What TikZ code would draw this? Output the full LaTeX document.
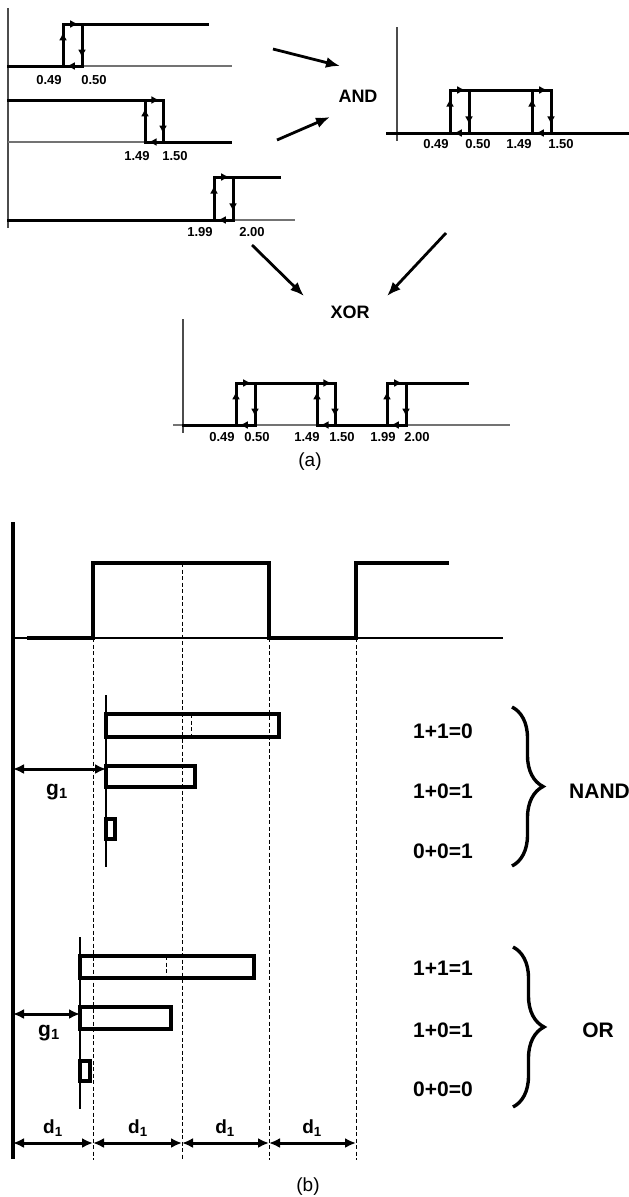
\documentclass[tikz,border=0pt]{standalone}
\usepackage{fontspec}
\setmainfont{Liberation Sans}
\usepackage{tikz}
\usetikzlibrary{arrows.meta,decorations.markings,decorations.pathreplacing}
\tikzset{
every picture/.style={line join=miter},
axis thin/.style={draw=black!70, line width=1.2pt},
wave/.style={draw=black, line width=3pt, line cap=rect},
wave thin/.style={draw=black!55, line width=1.2pt},
loop mark/.style={postaction={decorate},
  decoration={markings, mark=at position 0.8 with {\arrow{Latex[length=8pt,width=8pt]}}}},
gate arrow/.style={draw=black, line width=2.8pt, -{Latex[length=14pt,width=11pt]}},
tick label/.style={font=\bfseries\fontsize{13}{15}\selectfont, inner sep=0pt},
gate label/.style={font=\bfseries\fontsize{18}{20}\selectfont, inner sep=0pt},
part label/.style={font=\fontsize{19}{21}\selectfont, inner sep=0pt},
pulse/.style={draw=black, line width=4pt},
base line/.style={draw=black, line width=1.6pt},
guide/.style={draw=black, line width=1pt, dash pattern=on 4pt off 2.5pt},
bar/.style={draw=black, line width=3.2pt},
bar stem/.style={draw=black, line width=2.8pt},
dim arrow/.style={draw=black, line width=3pt, {Latex[length=11pt,width=10pt]}-{Latex[length=11pt,width=10pt]}},
dim label/.style={font=\bfseries\fontsize{19}{21}\selectfont, inner sep=0pt},
gap label/.style={font=\bfseries\fontsize{21}{23}\selectfont, inner sep=0pt},
eq label/.style={font=\bfseries\fontsize{21}{23}\selectfont, inner sep=0pt},
truth brace/.style={draw=black, line width=3.4pt, decorate, decoration={brace, amplitude=31pt}}
}
% one hysteresis loop: x up, x down, y low, y high
\newcommand{\hysloop}[4]{%
  \draw[wave,loop mark] (#1,#3) -- (#1,#4);
  \draw[wave,loop mark] (#1,#4) -- (#2,#4);
  \draw[wave,loop mark] (#2,#4) -- (#2,#3);
  \draw[wave,loop mark] (#2,#3) -- (#1,#3);
}

\begin{document}
\begin{tikzpicture}[x=1pt,y=-1pt]
\useasboundingbox (0,0) rectangle (629,1197);

% (a) three input signals
\draw[axis thin] (8,8) -- (8,228);
\draw[wave thin] (82,66) -- (232,66);
\draw[wave] (8,66) -- (63,66);
\hysloop{63}{82}{66}{24}
\draw[wave] (82,24) -- (207,24);
\node[tick label] (inAlo) at (49,80) {0.49};
\node[tick label] (inAhi) at (94,80) {0.50};

\draw[wave] (8,100) -- (145,100);
\draw[wave thin] (8,142) -- (145,142);
\hysloop{145}{163}{142}{100}
\draw[wave] (163,142) -- (230,142);
\node[tick label] (inBlo) at (137,156) {1.49};
\node[tick label] (inBhi) at (175,156) {1.50};

\draw[wave thin] (233,220) -- (295,220);
\draw[wave] (8,220) -- (214,220);
\hysloop{214}{233}{220}{177}
\draw[wave] (233,177) -- (279,177);
\node[tick label] (inClo) at (200,232) {1.99};
\node[tick label] (inChi) at (252,232) {2.00};

% AND
\node[gate label] (andlbl) at (358,96) {AND};
\coordinate (andin1) at (273,49);
\coordinate (andtip1) at (340,66);
\coordinate (andin2) at (277,140);
\coordinate (andtip2) at (330,117);
\draw[gate arrow] (andin1) -- (andtip1);
\draw[gate arrow] (andin2) -- (andtip2);

\draw[axis thin] (397,27) -- (397,141);
\draw[wave] (387,133) -- (629,133);
\hysloop{450}{469}{133}{90}
\hysloop{532}{551}{133}{90}
\draw[wave] (469,90) -- (532,90);
\node[tick label] (andA) at (436,144) {0.49};
\node[tick label] (andB) at (478,144) {0.50};
\node[tick label] (andC) at (519,144) {1.49};
\node[tick label] (andD) at (561,144) {1.50};

% XOR
\node[gate label] (xorlbl) at (350,312) {XOR};
\coordinate (xorin1) at (252,245);
\coordinate (xortip1) at (304,296);
\coordinate (xorin2) at (446,233);
\coordinate (xortip2) at (387,296);
\draw[gate arrow] (xorin1) -- (xortip1);
\draw[gate arrow] (xorin2) -- (xortip2);

\draw[axis thin] (183,319) -- (183,433);
\draw[wave thin] (173,425) -- (510,425);
\draw[wave] (183,425) -- (236,425);
\draw[wave] (335,425) -- (387,425);
\hysloop{236}{255}{425}{383}
\hysloop{317}{335}{425}{383}
\hysloop{387}{406}{425}{383}
\draw[wave] (255,383) -- (317,383);
\draw[wave] (406,383) -- (467,383);
\node[tick label] (xorA) at (222,437) {0.49};
\node[tick label] (xorB) at (257,437) {0.50};
\node[tick label] (xorC) at (307,437) {1.49};
\node[tick label] (xorD) at (342,437) {1.50};
\node[tick label] (xorE) at (383,437) {1.99};
\node[tick label] (xorF) at (417,437) {2.00};
\node[part label] (parta) at (310,462) {(a)};

% (b) pulse and guides
\draw[guide] (93,638) -- (93,1160);
\draw[guide] (182,563) -- (182,1160);
\draw[guide] (269,638) -- (269,1160);
\draw[guide] (356,638) -- (356,1160);
\draw[pulse] (13,522) -- (13,1159);
\draw[base line] (13,638) -- (503,638);
\draw[pulse] (27,638) -- (93,638) -- (93,563) -- (269,563) -- (269,638) -- (356,638) -- (356,563) -- (449,563);

% NAND bars
\draw[bar stem] (106,695) -- (106,867);
\draw[guide] (191,714) -- (191,737);
\draw[bar] (106,714) rectangle (279,737);
\draw[bar] (106,766) rectangle (195,787);
\draw[bar] (106,819) rectangle (115,839);
\coordinate (gnandL) at (13,769);
\coordinate (gnandR) at (106,769);
\draw[dim arrow] (gnandL) -- (gnandR);
\node[gap label] (gnand) at (57,792) {g\textsubscript{1}};

\node[eq label] (nandA) at (443,731) {1+1=0};
\node[eq label] (nandB) at (443,791) {1+0=1};
\node[eq label] (nandC) at (443,851) {0+0=1};
\draw[truth brace] (512,707) -- (512,866);
\node[eq label, anchor=west] (nandlbl) at (569,791) {NAND};

% OR bars
\draw[bar stem] (80,937) -- (80,1109);
\draw[guide] (166,956) -- (166,978);
\draw[bar] (80,956) rectangle (254,978);
\draw[bar] (80,1007) rectangle (171,1029);
\draw[bar] (80,1061) rectangle (90,1081);
\coordinate (gorL) at (13,1014);
\coordinate (gorR) at (80,1014);
\draw[dim arrow] (gorL) -- (gorR);
\node[gap label] (gor) at (49,1033) {g\textsubscript{1}};

\node[eq label] (orA) at (443,968) {1+1=1};
\node[eq label] (orB) at (443,1030) {1+0=1};
\node[eq label] (orC) at (443,1089) {0+0=0};
\draw[truth brace] (513,947) -- (513,1107);
\node[eq label] (orlbl) at (598,1030) {OR};

% d1 spacing
\coordinate (dA) at (13,1143);
\coordinate (dB) at (93,1143);
\coordinate (dC) at (182,1143);
\coordinate (dD) at (269,1143);
\coordinate (dE) at (356,1143);
\draw[dim arrow] (dA) -- (dB);
\draw[dim arrow] (dB) -- (dC);
\draw[dim arrow] (dC) -- (dD);
\draw[dim arrow] (dD) -- (dE);
\node[dim label] (dlA) at (53,1128) {d\textsubscript{1}};
\node[dim label] (dlB) at (138,1128) {d\textsubscript{1}};
\node[dim label] (dlC) at (225,1128) {d\textsubscript{1}};
\node[dim label] (dlD) at (312,1128) {d\textsubscript{1}};
\node[part label] (partb) at (308,1187) {(b)};
\end{tikzpicture}
\end{document}
